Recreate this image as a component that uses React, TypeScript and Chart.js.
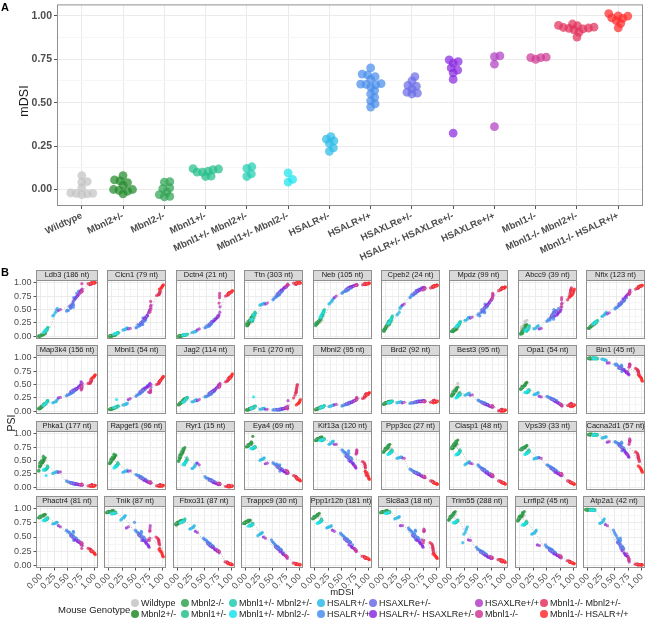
import React, { useEffect, useRef } from "react";
import { Chart, registerables } from "chart.js";
Chart.register(...registerables);

const FONT = "'Liberation Sans', Arial, Helvetica, sans-serif";
Chart.defaults.font.family = FONT;

// ---------------- data ----------------
const genotypes = [
  "Wildtype", "Mbnl2+/-", "Mbnl2-/-", "Mbnl1+/-", "Mbnl1+/- Mbnl2+/-", "Mbnl1+/- Mbnl2-/-",
  "HSALR+/-", "HSALR+/+", "HSAXLRe+/-", "HSALR+/- HSAXLRe+/-", "HSAXLRe+/+", "Mbnl1-/-",
  "Mbnl1-/- Mbnl2+/-", "Mbnl1-/- HSALR+/+",
];
const genotypeColors = [
  "#c4c4c4", "#238b2b", "#31a354", "#26bf8a", "#22cdb2", "#1be3ee", "#2dbbe8",
  "#4a8eec", "#6c6ce8", "#8a2be2", "#b040c4", "#cf3a96", "#e2325c", "#ff2d2d",
];
// mDSI of every mouse, by genotype (panel A)
const mdsiByGenotype: number[][] = [
  [0.08, 0.045, 0.043, 0.01, -0.02, -0.022, -0.023, -0.025, -0.03],
  [0.08, 0.055, 0.05, 0.04, 0.025, 0.0, 0.0, -0.005, -0.01, -0.025],
  [0.045, 0.043, 0.01, 0.005, -0.015, -0.03, -0.04, -0.042],
  [0.12, 0.118, 0.115, 0.105, 0.1, 0.1, 0.077, 0.075],
  [0.131, 0.122, 0.09, 0.075],
  [0.096, 0.058, 0.043],
  [0.305, 0.29, 0.28, 0.265, 0.24, 0.22],
  [0.7, 0.665, 0.66, 0.65, 0.635, 0.61, 0.607, 0.605, 0.603, 0.59, 0.57, 0.55, 0.53, 0.51, 0.493, 0.475],
  [0.65, 0.625, 0.6, 0.595, 0.58, 0.56, 0.555, 0.55],
  [0.747, 0.737, 0.728, 0.7, 0.687, 0.672, 0.634, 0.325],
  [0.769, 0.765, 0.722, 0.362],
  [0.762, 0.76, 0.76, 0.75],
  [0.953, 0.945, 0.943, 0.935, 0.933, 0.93, 0.928, 0.925, 0.919, 0.906, 0.878],
  [1.013, 1.0, 0.998, 0.988, 0.985, 0.972, 0.957, 0.931],
];
const geneLabels = [
  "Ldb3 (186 nt)", "Clcn1 (79 nt)", "Dctn4 (21 nt)", "Ttn (303 nt)", "Neb (105 nt)", "Cpeb2 (24 nt)", "Mpdz (99 nt)", "Abcc9 (39 nt)", "Nfix (123 nt)",
  "Map3k4 (156 nt)", "Mbnl1 (54 nt)", "Jag2 (114 nt)", "Fn1 (270 nt)", "Mbnl2 (95 nt)", "Brd2 (92 nt)", "Best3 (95 nt)", "Opa1 (54 nt)", "Bin1 (45 nt)",
  "Phka1 (177 nt)", "Rapgef1 (96 nt)", "Ryr1 (15 nt)", "Eya4 (69 nt)", "Kif13a (120 nt)", "Ppp3cc (27 nt)", "Clasp1 (48 nt)", "Vps39 (33 nt)", "Cacna2d1 (57 nt)",
  "Phactr4 (81 nt)", "Tnik (87 nt)", "Fbxo31 (87 nt)", "Trappc9 (30 nt)", "Ppp1r12b (181 nt)", "Slc8a3 (18 nt)", "Trim55 (288 nt)", "Lrrfip2 (45 nt)", "Atp2a1 (42 nt)",
];
// PSI (%) of every mouse, same order as mdsiByGenotype, genotypes separated by "|"
const psiByGene: string[] = [
  "4 3 2 2 1 1 2 1 0|6 5 4 4 3 2 2 1 2 1|5 4 3 2 2 1 1 0|15 14 12 13 10 11 8 9|17 16 12 11|12 8 7|52 50 46 44 40 38|84 80 74 72 70 72 58 66 54 60 55 52 56 48 49 47|72 68 65 62 60 56 58 54|86 84 82 78 76 74 70 48|88 84 80 50|98 86 84 82|99 99 98 98 98 97 99 98 97 96 98|100 100 99 100 99 99 100 99",
  "3 2 2 1 1 1 2 1 0|3 3 2 2 2 1 1 1 2 1|3 2 2 1 1 0 1 0|7 6 6 5 6 5 5 4|7 6 5 5|6 5 4|16 15 14 13 12 12|38 33 30 36 28 34 22 28 24 22 26 20 19 22 17 16|32 30 28 27 25 24 23 22|50 47 45 40 38 35 33 14|58 52 44 15|65 56 50 46|86 84 82 82 80 80 79 78 78 77 76|96 95 94 93 92 90 89 88",
  "2 2 1 1 1 1 0 1 0|3 2 2 2 1 1 1 1 0 1|3 2 2 1 1 0 1 0|4 4 3 3 3 3 2 3|4 4 3 3|3 3 2|10 9 9 8 8 7|35 32 30 31 28 27 25 24 26 22 20 19 18 20 17 16|30 28 26 27 24 22 23 21|40 38 36 34 33 31 28 12|55 45 38 14|80 76 72 62|82 81 80 80 79 79 78 78 77 76 75|85 84 83 82 82 81 80 79",
  "30 28 25 24 22 20 26 28 24|40 36 34 30 28 26 25 22 24 20|35 32 30 28 26 22 20 24|45 42 40 38 36 34 30 28|44 42 35 32|40 32 30|62 61 60 60 59 58|90 86 85 84 82 80 82 78 80 77 76 74 73 72 70 68|86 84 83 82 80 78 79 76|94 92 92 90 90 88 86 60|96 95 93 62|97 96 95 95|99 99 98 99 98 98 97 98 97 98 99|99 100 100 99 99 100 99 100",
  "30 28 26 25 24 23 22 25 26|38 34 32 30 28 27 25 24 26 22|32 30 28 26 25 22 24 20|48 46 45 42 40 38 36 34|50 46 42 40|45 38 35|70 68 66 64 62 60|94 92 91 90 90 89 88 88 87 86 85 84 84 83 82 80|92 91 90 90 89 88 87 86|96 95 95 94 93 93 92 72|96 95 94 75|96 96 95 95|98 98 97 98 97 97 96 97 98 97 96|99 99 98 98 99 98 97 99",
  "22 20 18 16 14 12 15 12 10|30 28 26 24 20 18 16 14 15 12|24 22 20 16 14 10 12 10|36 34 32 30 28 27 24 22|38 35 30 28|32 26 24|56 54 52 45 42 40|90 87 86 86 85 84 83 84 82 80 80 78 76 78 74 72|88 86 84 85 82 80 81 78|91 90 90 88 88 86 84 58|90 89 86 60|90 89 88 88|95 94 93 94 93 92 92 91 93 92 90|95 96 94 95 94 93 94 92",
  "14 13 12 12 11 10 12 11 10|18 16 14 13 12 11 10 12 10 9|16 15 14 12 12 10 10 9|26 25 24 22 22 20 20 18|28 26 22 20|24 20 18|36 35 34 32 30 30|62 58 57 55 54 60 46 52 44 48 46 50 44 38 42 40|58 55 54 52 50 48 49 46|70 68 67 64 62 60 58 34|78 76 66 36|80 74 72 70|91 90 90 89 89 88 88 87 87 86 85|92 91 91 90 90 89 89 88",
  "30 28 24 20 18 15 12 10 8|22 20 18 14 12 10 8 6 10 5|20 16 14 10 8 6 5 4|18 16 15 14 12 13 10 10|20 16 14 12|15 12 10|20 18 18 16 15 14|52 48 46 45 44 50 36 42 32 36 40 34 30 32 30 28|48 46 45 42 40 38 36 35|50 48 46 44 42 40 38 14|62 55 48 15|72 68 60 55|90 88 86 85 82 80 78 76 74 72 68|88 86 84 82 80 78 76 74",
  "22 21 20 18 17 16 17 16 15|26 24 23 22 20 19 18 18 17 16|22 21 20 19 18 16 15 15|28 27 27 26 25 25 24 23|30 29 27 26|27 24 23|45 43 41 40 38 37|72 68 67 66 65 63 62 63 61 60 58 57 55 54 53 51|68 66 64 63 62 60 61 58|80 78 78 76 74 72 70 42|86 82 78 44|84 80 80 78|93 92 92 92 91 91 90 90 90 89 88|95 95 94 94 93 93 94 92",
  "12 10 9 8 7 6 8 6 5|15 14 12 11 9 8 7 6 8 5|12 11 10 8 7 6 5 5|20 19 18 16 17 15 14 13|20 18 15 14|16 12 11|22 20 18 18 17 16|46 42 41 40 40 38 37 38 36 35 34 33 32 31 30 29|43 41 40 39 38 36 37 35|55 50 48 45 44 42 40 25|52 46 44 26|48 44 42 40|62 60 58 58 57 56 55 54 53 52 52|68 67 66 65 64 63 62 60",
  "7 6 6 5 5 4 5 4 4|8 7 6 6 5 5 4 5 4 4|7 6 6 5 5 4 4 4|10 10 9 9 8 8 7 7|10 9 8 8|22 8 7|15 14 14 13 12 12|48 44 42 41 40 39 38 40 37 36 34 33 32 31 30 28|44 42 40 40 38 36 37 35|52 50 48 46 45 44 42 22|50 45 36 24|40 38 36 35|58 57 56 56 55 54 54 53 52 51 50|65 64 63 62 61 60 58 56",
  "18 17 16 15 14 14 15 13 12|24 22 21 20 18 17 16 15 16 14|20 18 17 16 15 13 13 12|26 25 24 23 22 22 20 20|26 24 21 20|22 18 17|22 21 20 19 18 18|44 40 38 37 36 35 34 35 33 32 31 30 29 28 28 27|40 38 37 36 35 33 34 32|50 48 46 44 42 40 38 20|52 48 44 22|50 48 46 45|64 62 62 61 60 60 59 58 57 56 55|70 68 66 65 64 62 61 60",
  "5 4 4 4 3 3 4 3 3|8 7 6 5 5 4 4 3 4 3|6 5 5 4 4 3 3 3|10 9 8 8 7 7 6 6|10 9 8 7|27 6 5|6 5 5 5 4 4|5 5 4 4 4 3 3 4 3 3 3 3 4 3 3 3|5 5 4 4 4 3 4 3|8 7 6 6 5 5 4 4|20 10 8 4|8 6 5 5|50 48 45 42 40 38 36 35 34 30 25|22 20 18 17 16 15 14 12",
  "7 6 6 5 5 4 5 5 4|9 8 7 7 6 5 5 4 5 4|8 7 6 5 5 4 4 3|10 10 9 9 8 8 7 7|11 10 8 8|9 7 6|12 11 11 10 10 9|20 18 17 17 16 15 15 16 14 14 13 13 12 12 11 10|18 17 16 15 15 14 14 13|22 21 20 19 18 17 16 12|24 22 20 13|26 24 22 21|33 32 32 31 30 30 29 28 27 25 24|35 34 33 32 32 31 30 28",
  "18 17 16 16 15 15 16 15 14|19 18 18 17 16 16 15 15 16 14|18 17 16 16 15 14 14 13|19 19 18 18 17 17 16 16|19 18 17 17|18 17 16|18 18 17 17 17 16|20 19 19 19 18 18 18 17 17 17 17 16 16 16 16 15|19 19 18 18 18 17 17 17|20 20 19 19 18 18 18 16|19 19 18 17|19 18 18 18|21 20 20 20 19 19 19 18 18 18 17|19 19 18 18 17 17 17 16",
  "52 45 42 40 38 35 36 34 33|45 42 40 38 36 35 34 32 33 30|42 40 38 36 34 32 30 28|35 34 33 32 32 30 30 28|32 30 28 27|30 26 25|34 33 32 32 31 30|10 12 13 13 14 15 15 16 15 16 17 18 18 19 20 21|12 13 14 14 15 16 16 17|8 9 9 10 11 12 13 30|8 9 10 31|9 10 10 11|4 4 3 4 3 3 2 3 2 2 1|3 2 2 2 1 1 1 0",
  "52 50 48 46 45 44 46 45 44|54 52 50 48 47 46 45 44 46 43|50 48 47 45 44 42 42 41|40 39 38 37 36 36 35 35|40 38 36 35|38 36 35|35 34 33 32 32 31|17 19 20 20 21 22 22 23 22 23 24 25 25 26 27 28|19 20 21 21 22 23 23 24|12 13 14 15 16 17 18 28|10 12 14 27|11 12 12 13|15 14 14 14 13 13 13 12 12 12 11|12 12 11 11 10 10 9 9",
  "99 99 99 98 99 98 99 98 99|99 99 98 99 98 98 99 98 99 98|99 98 98 99 98 99 98 99|99 98 98 99 98 98 99 98|98 98 99 98|98 98 99|95 95 96 96 97 97|72 76 77 78 78 74 84 80 86 82 83 80 85 88 86 88|76 78 79 80 80 82 81 83|68 70 70 72 74 75 78 90|86 88 74 90|86 88 84 82|66 68 70 72 72 74 75 76 77 78 80|56 58 60 62 63 64 66 68",
  "50 48 47 46 45 44 46 45 44|55 52 50 48 45 44 42 40 46 38|58 55 50 48 45 40 32 30|40 38 36 35 34 34 33 32|38 36 34 33|22 34 32|30 29 28 28 27 26|5 6 6 6 7 7 8 8 7 8 9 9 10 10 11 12|6 6 7 7 8 8 8 9|4 5 5 5 6 6 7 28|4 5 5 29|5 5 6 6|5 5 4 4 4 4 3 3 3 3 3|4 4 3 3 3 2 2 2",
  "58 55 54 52 50 50 52 50 48|60 58 56 54 52 50 50 48 52 46|62 60 56 54 50 46 44 45|46 44 43 42 41 40 40 38|44 42 40 38|40 38 36|32 31 30 30 29 28|12 14 15 15 16 17 17 18 17 19 20 21 22 22 23 24|14 15 16 16 17 18 18 19|8 9 10 10 11 12 13 30|8 9 10 31|9 10 10 11|5 5 4 4 4 4 4 3 3 3 3|4 4 3 3 3 3 2 2",
  "70 66 64 62 60 58 60 58 56|74 70 68 65 62 60 58 55 60 52|72 70 66 62 58 55 50 48|55 52 50 50 48 46 45 42|52 50 46 45|46 44 42|45 42 40 38 36 35|8 10 11 11 12 13 13 14 13 14 15 16 17 17 18 20|10 11 12 12 13 14 14 15|5 6 6 7 8 8 9 45|6 7 8 42|6 7 7 8|4 4 4 3 3 3 3 3 2 2 2|3 3 2 2 2 2 1 1",
  "82 80 80 78 78 77 79 78 77|95 84 82 80 80 78 78 77 79 76|84 82 80 79 78 76 76 75|76 75 75 74 74 73 72 72|75 74 72 72|75 73 72|55 54 53 52 52 50|30 32 33 34 35 30 42 37 40 38 40 44 42 43 44 46|33 34 35 36 37 38 38 40|26 27 28 29 30 31 33 44|26 28 32 45|28 29 30 31|15 16 17 18 18 19 19 20 20 21 22|12 13 14 14 15 16 17 18",
  "92 91 90 90 89 89 90 89 88|94 93 92 91 90 90 89 88 90 88|93 92 91 90 89 88 88 87|90 90 89 89 88 88 87 87|90 89 88 88|89 88 87|86 85 84 82 81 80|45 52 54 55 56 50 64 58 68 60 62 64 65 66 68 70|50 52 54 55 56 58 58 60|36 38 40 42 44 46 48 80|68 64 40 80|70 66 64 62|22 25 28 30 36 38 40 42 44 46 48|15 16 18 20 22 25 28 30",
  "74 72 72 70 70 68 70 69 68|80 78 76 74 72 72 70 70 72 68|78 76 74 72 70 68 66 65|70 68 67 66 66 65 64 64|68 66 64 63|64 62 61|57 56 56 55 55 54|22 24 25 25 26 27 27 28 27 28 29 30 31 32 33 34|24 25 26 26 27 28 28 29|19 20 20 21 22 23 24 55|18 19 21 54|19 20 20 21|8 9 9 9 10 10 10 11 11 12 12|6 6 7 7 7 8 8 9",
  "80 78 76 75 74 74 76 75 74|88 85 82 80 78 76 75 74 76 72|86 84 82 80 78 76 74 72|70 68 66 65 64 63 62 62|68 66 62 62|64 62 60|48 47 46 45 44 42|26 28 29 30 30 31 32 33 32 34 35 36 37 38 40 42|28 29 30 31 32 33 33 35|20 21 22 23 24 25 27 45|20 22 25 44|22 23 23 24|8 9 9 10 10 10 11 11 11 12 12|6 7 7 8 8 9 9 10",
  "76 74 73 72 72 71 72 71 70|78 76 75 74 73 72 72 71 73 70|76 75 74 73 72 71 70 70|70 68 67 66 66 65 64 64|68 66 64 63|64 62 61|56 55 55 54 54 53|28 30 31 32 32 33 34 35 34 36 37 38 39 40 41 42|30 31 32 33 34 35 35 36|22 23 24 25 26 27 28 55|22 24 26 54|24 25 25 26|8 9 9 9 10 10 10 11 11 12 12|6 6 7 7 8 8 9 9",
  "98 98 98 99 98 98 99 98 98|99 98 98 98 99 98 98 99 98 98|98 98 99 98 98 99 98 98|98 98 97 98 97 98 98 97|98 97 97 98|97 98 97|94 94 93 93 92 92|64 68 70 72 74 68 82 76 84 80 80 82 82 83 84 85|70 72 74 75 76 78 78 80|56 58 60 62 64 66 70 84|88 86 62 85|90 86 84 80|48 50 52 54 55 56 58 60 62 64 66|28 30 32 33 34 36 38 40",
  "88 87 86 86 85 85 86 85 84|90 89 88 88 87 86 86 85 87 84|89 88 87 86 86 85 84 84|84 83 82 82 81 81 80 80|84 82 80 80|82 80 79|76 76 75 74 74 73|44 46 47 48 49 44 58 52 60 53 54 56 58 59 60 62|46 47 48 50 51 52 52 54|38 39 40 41 42 43 45 70|35 38 42 68|38 40 30 36|24 24 25 25 26 26 27 28 28 29 30|19 20 21 22 23 24 25 26",
  "96 96 95 95 95 94 95 94 94|97 96 96 95 95 95 94 94 95 94|96 96 95 95 94 94 93 93|94 94 93 93 93 92 92 92|93 92 92 91|92 91 91|88 86 85 84 82 80|42 46 48 50 50 44 58 52 60 55 56 57 58 60 62 76|46 48 50 50 52 54 53 55|32 34 36 38 40 42 44 66|70 66 45 68|62 60 48 44|25 30 36 38 40 42 44 45 46 48 50|15 16 18 20 22 24 26 28",
  "76 75 74 73 72 71 72 70 70|80 78 78 77 76 75 74 74 76 72|79 78 77 76 75 74 73 72|80 79 79 78 78 77 77 76|82 80 78 77|78 76 75|70 68 67 66 65 64|28 32 33 34 35 36 37 38 37 39 40 42 44 45 46 48|32 33 34 35 36 38 38 40|24 25 26 27 28 30 32 60|22 24 28 58|24 25 25 26|3 3 4 4 4 4 5 5 5 6 6|1 1 2 2 2 2 3 3",
  "78 77 76 76 75 75 76 75 74|80 79 78 78 77 76 76 75 77 74|80 79 78 77 76 75 74 74|74 73 72 72 71 70 70 70|74 72 70 70|72 70 69|58 57 56 55 54 52|22 26 27 28 29 30 31 32 31 33 34 36 38 40 42 45|26 27 28 29 30 32 32 34|16 17 18 19 20 22 24 50|12 15 18 48|14 15 16 17|2 2 2 2 2 3 3 3 3 4 4|1 1 1 1 1 2 2 2",
  "88 87 86 85 85 84 86 85 84|92 90 89 88 87 86 85 84 86 83|90 88 87 86 85 84 83 82|82 80 79 78 78 77 76 76|80 78 76 75|77 75 74|70 69 68 68 67 66|36 40 41 42 43 44 45 46 45 47 48 50 52 53 55 57|40 41 42 43 44 46 46 48|28 29 30 31 32 34 36 62|24 26 30 60|26 27 27 28|12 12 13 13 14 14 14 15 15 16 16|10 11 11 12 12 13 13 14",
  "96 96 95 95 95 94 95 94 94|97 96 96 95 95 95 94 94 95 94|96 96 95 95 94 94 93 93|95 95 94 94 94 93 93 93|94 93 93 92|93 92 92|86 85 84 84 83 82|40 46 48 49 50 45 60 52 62 55 56 58 60 62 63 66|45 47 48 50 51 52 52 54|32 34 36 38 40 42 44 70|62 60 45 70|64 60 44 40|20 22 24 26 28 30 32 34 36 38 40|12 13 14 15 16 17 18 20",
  "90 88 86 85 84 84 86 85 84|95 93 92 90 88 86 85 84 86 82|92 90 88 86 84 82 80 80|80 79 78 78 77 76 76 75|80 78 76 75|78 76 75|68 65 62 58 55 40|16 18 19 20 20 21 22 23 22 24 25 26 27 28 29 32|18 19 20 21 22 23 23 24|12 13 14 14 15 16 18 45|12 14 16 44|13 14 14 15|6 7 7 8 8 8 9 9 9 10 10|5 6 7 7 8 8 9 10",
  "88 86 85 84 84 83 85 84 83|95 92 90 88 86 85 84 82 86 80|93 90 88 86 84 82 80 78|78 76 75 74 74 73 72 72|76 74 72 71|74 72 71|62 60 58 57 56 55|18 21 22 23 24 25 26 27 26 28 29 30 31 32 33 36|21 22 23 24 25 26 26 28|14 15 16 17 18 19 20 36|13 15 18 35|15 16 16 17|5 5 5 6 6 6 7 7 7 8 8|3 3 3 4 4 4 5 5",
  "99 99 98 98 99 98 98 99 98|99 98 98 99 98 98 99 98 98 99|99 98 98 99 98 98 99 98|98 98 97 97 98 97 97 98|98 97 97 98|97 97 98|82 80 78 76 75 74|18 28 30 32 34 30 44 38 48 42 45 48 52 55 58 62|30 32 34 36 38 40 40 42|15 16 17 18 20 22 26 72|6 10 20 70|8 10 12 14|1 1 1 1 1 1 1 2 2 2 2|1 0 1 1 1 1 1 1",
];
const panelATicks = [0, 0.25, 0.5, 0.75, 1];
const facetTicks = [0, 0.25, 0.5, 0.75, 1];

// ---------------- helpers ----------------
function rgba(hex: string, a: number) {
  const n = parseInt(hex.slice(1), 16);
  return `rgba(${(n >> 16) & 255},${(n >> 8) & 255},${n & 255},${a})`;
}
const withMinor = (ticks: number[]) => {
  const out: number[] = [];
  ticks.forEach((t, i) => {
    out.push(t);
    if (i < ticks.length - 1) out.push((t + ticks[i + 1]) / 2);
  });
  return out;
};
const isMajor = (ticks: number[], v: number) => ticks.some((t) => Math.abs(t - v) < 1e-9);
const parsePsi = (s: string) => s.split("|").map((g) => g.trim().split(/\s+/).map((v) => Number(v) / 100));

function swarmOffsets(vals: number[], pxPerY: number, pxPerX: number, minDist: number) {
  const order = vals.map((_, i) => i).sort((a, b) => vals[a] - vals[b]);
  const placed: [number, number][] = [];
  const out = new Array(vals.length).fill(0);
  for (const i of order) {
    const y = vals[i] * pxPerY;
    for (let k = 0; k < 400; k++) {
      const dx = k === 0 ? 0 : (k % 2 ? 1 : -1) * Math.ceil(k / 2) * 0.5;
      if (placed.every(([px, py]) => Math.hypot(px - dx, py - y) >= minDist)) {
        placed.push([dx, y]);
        out[i] = dx / pxPerX;
        break;
      }
    }
  }
  return out;
}

function kernelSmooth(pts: { x: number; y: number }[], bw: number) {
  const xs = pts.map((p) => p.x);
  const lo = Math.min(...xs), hi = Math.max(...xs);
  const n = 40;
  const out: { x: number; y: number }[] = [];
  for (let i = 0; i <= n; i++) {
    const x0 = lo + ((hi - lo) * i) / n;
    let w = 0, s = 0;
    for (const p of pts) {
      const d = (p.x - x0) / bw;
      const k = Math.exp(-0.5 * d * d);
      w += k;
      s += k * p.y;
    }
    out.push({ x: x0, y: s / w });
  }
  return out;
}

const BORDER = "#8f8f8f";
function framePlugin(strip?: string) {
  return {
    id: "frame",
    afterDraw(chart: any) {
      const { ctx, chartArea } = chart;
      const { left, top, right, bottom } = chartArea;
      ctx.save();
      ctx.lineWidth = 1;
      ctx.strokeStyle = BORDER;
      if (strip) {
        ctx.fillStyle = "#d9d9d9";
        ctx.fillRect(left, top - 10, right - left, 10);
        ctx.strokeRect(left + 0.5, top - 10 + 0.5, right - left - 1, 10);
        ctx.fillStyle = "#1a1a1a";
        ctx.font = `7.5px ${FONT}`;
        ctx.textAlign = "center";
        ctx.textBaseline = "middle";
        ctx.fillText(strip, (left + right) / 2, top - 4.6);
      }
      ctx.strokeRect(left + 0.5, top + 0.5, right - left - 1, bottom - top - 1);
      ctx.restore();
    },
  };
}

// ---------------- layout ----------------
const A_W = 650, A_H = 262;
const A_LEFT = 57, A_RIGHT_PAD = 7, A_TOP = 1, A_BOTTOM = 206;
const A_YMIN = -0.095, A_YMAX = 1.066, A_XMIN = -0.6, A_XMAX = 13.6;
const F_LEFT0 = 36, F_STEP_X = 68.4, F_W = 65;
const F_TOP0 = 270, F_STEP_Y = 75.33, F_STRIP = 10, F_H = 62;
const F_XMIN = -0.092, F_XMAX = 1.062, F_YMIN = -0.048, F_YMAX = 1.048;

type Box = { left: number; top: number; width: number; height: number; L: number; R: number; B: number; r: number; c: number };
const facetBoxes: Box[] = geneLabels.map((_, i) => {
  const r = Math.floor(i / 9), c = i % 9;
  const plotLeft = Math.round(F_LEFT0 + c * F_STEP_X);
  const stripTop = Math.round(F_TOP0 + r * F_STEP_Y);
  const L = c === 0 ? plotLeft : r === 3 ? 22 : 1;
  const R = 1;
  const B = r === 3 ? 30 : 1;
  return { left: plotLeft - L, top: stripTop, width: L + F_W + R, height: F_STRIP + F_H + B, L, R, B, r, c };
});

const legendColX = [135, 185, 233, 321, 373, 479, 544];
const legendRowY = [603, 614];

export default function App() {
  const aRef = useRef<HTMLCanvasElement>(null);
  const fRefs = useRef<(HTMLCanvasElement | null)[]>([]);

  useEffect(() => {
    document.body.style.margin = "0";
    const charts: Chart[] = [];
    const pxPerY = (A_BOTTOM - A_TOP) / (A_YMAX - A_YMIN);
    const pxPerX = (A_W - A_RIGHT_PAD - A_LEFT) / (A_XMAX - A_XMIN);
    const aMinor = withMinor(panelATicks);

    // Panel A
    if (aRef.current) {
      const datasets: any[] = genotypes.map((g, i) => {
        const offs = swarmOffsets(mdsiByGenotype[i], pxPerY, pxPerX, 5.2);
        return {
          label: g,
          data: mdsiByGenotype[i].map((v, j) => ({ x: i + offs[j], y: v })),
          backgroundColor: rgba(genotypeColors[i], 0.72),
          borderWidth: 0,
          pointRadius: 4.4,
          order: -i,
        };
      });
      charts.push(
        new Chart(aRef.current, {
          type: "scatter",
          data: { datasets },
          options: {
            animation: false,
            responsive: false,
            events: [],
            layout: { padding: { left: 0, top: A_TOP, right: A_RIGHT_PAD, bottom: 0 } },
            plugins: { legend: { display: false }, tooltip: { enabled: false } },
            scales: {
              x: {
                type: "linear",
                min: A_XMIN,
                max: A_XMAX,
                afterBuildTicks: (s: any) => {
                  s.ticks = genotypes.map((_, i) => ({ value: i }));
                },
                afterFit: (s: any) => {
                  s.height = A_H - A_BOTTOM;
                  s.paddingLeft = 0;
                  s.paddingRight = 0;
                },
                ticks: {
                  autoSkip: false,
                  minRotation: 25,
                  maxRotation: 25,
                  padding: 1,
                  color: "#4d4d4d",
                  font: { size: 9.5, weight: "bold" },
                  callback: (v: any) => genotypes[Math.round(Number(v))] ?? "",
                },
                grid: { color: "#ebebeb", tickColor: "#555", tickLength: 3, lineWidth: 1 },
                border: { display: false },
              },
              y: {
                min: A_YMIN,
                max: A_YMAX,
                afterBuildTicks: (s: any) => {
                  s.ticks = aMinor.map((v) => ({ value: v }));
                },
                afterFit: (s: any) => {
                  s.width = A_LEFT;
                  s.paddingTop = 0;
                  s.paddingBottom = 0;
                },
                ticks: {
                  padding: 2,
                  color: "#4d4d4d",
                  font: { size: 10.5, weight: "bold" },
                  callback: (v: any) => (isMajor(panelATicks, Number(v)) ? Number(v).toFixed(2) : ""),
                },
                grid: {
                  color: (c: any) => (c.tick && isMajor(panelATicks, c.tick.value) ? "#ebebeb" : "#f6f6f6"),
                  tickColor: (c: any) => (c.tick && isMajor(panelATicks, c.tick.value) ? "#555" : "rgba(0,0,0,0)"),
                  tickLength: 3,
                },
                border: { display: false },
              },
            },
          },
          plugins: [framePlugin()],
        } as any)
      );
    }

    // Panel B
    const fMinor = withMinor(facetTicks);
    geneLabels.forEach((gene, gi) => {
      const cv = fRefs.current[gi];
      if (!cv) return;
      const box = facetBoxes[gi];
      const psi = parsePsi(psiByGene[gi]);
      const all: { x: number; y: number }[] = [];
      const datasets: any[] = genotypes.map((g, i) => {
        const xs = mdsiByGenotype[i];
        const ys = psi[i] || [];
        const n = Math.min(xs.length, ys.length);
        const data = [];
        for (let j = 0; j < n; j++) {
          data.push({ x: xs[j], y: ys[j] });
          all.push({ x: xs[j], y: ys[j] });
        }
        return {
          label: g,
          data,
          backgroundColor: rgba(genotypeColors[i], 0.8),
          borderWidth: 0,
          pointRadius: 1.6,
          order: -i,
        };
      });
      datasets.push({
        type: "line",
        label: "fit",
        data: kernelSmooth(all, 0.07),
        borderColor: "#b5b5b5",
        borderWidth: 0.8,
        borderDash: [1.2, 1.6],
        pointRadius: 0,
        fill: false,
        order: -100,
      });
      const showY = box.c === 0;
      const showX = box.r === 3;
      charts.push(
        new Chart(cv, {
          type: "scatter",
          data: { datasets },
          options: {
            animation: false,
            responsive: false,
            events: [],
            layout: { padding: { left: showY ? 0 : box.L, top: F_STRIP, right: box.R, bottom: showX ? 0 : box.B } },
            plugins: { legend: { display: false }, tooltip: { enabled: false } },
            scales: {
              x: {
                type: "linear",
                min: F_XMIN,
                max: F_XMAX,
                afterBuildTicks: (s: any) => {
                  s.ticks = fMinor.map((v) => ({ value: v }));
                },
                afterFit: (s: any) => {
                  s.height = showX ? box.B : 0;
                  s.paddingLeft = 0;
                  s.paddingRight = 0;
                },
                ticks: {
                  display: showX,
                  autoSkip: false,
                  minRotation: 45,
                  maxRotation: 45,
                  padding: 1,
                  color: "#4d4d4d",
                  font: { size: 9 },
                  callback: (v: any) => (isMajor(facetTicks, Number(v)) ? Number(v).toFixed(2) : ""),
                },
                grid: {
                  drawTicks: showX,
                  tickLength: 2.5,
                  color: (c: any) => (c.tick && isMajor(facetTicks, c.tick.value) ? "#ebebeb" : "#f5f5f5"),
                  tickColor: (c: any) => (c.tick && isMajor(facetTicks, c.tick.value) ? "#555" : "rgba(0,0,0,0)"),
                },
                border: { display: false },
              },
              y: {
                min: F_YMIN,
                max: F_YMAX,
                afterBuildTicks: (s: any) => {
                  s.ticks = fMinor.map((v) => ({ value: v }));
                },
                afterFit: (s: any) => {
                  s.width = showY ? box.L : 0;
                  s.paddingTop = 0;
                  s.paddingBottom = 0;
                },
                ticks: {
                  display: showY,
                  padding: 2,
                  color: "#4d4d4d",
                  font: { size: 9 },
                  callback: (v: any) => (isMajor(facetTicks, Number(v)) ? Number(v).toFixed(2) : ""),
                },
                grid: {
                  drawTicks: showY,
                  tickLength: 2.5,
                  color: (c: any) => (c.tick && isMajor(facetTicks, c.tick.value) ? "#ebebeb" : "#f5f5f5"),
                  tickColor: (c: any) => (c.tick && isMajor(facetTicks, c.tick.value) ? "#555" : "rgba(0,0,0,0)"),
                },
                border: { display: false },
              },
            },
          },
          plugins: [framePlugin(gene)],
        } as any)
      );
    });

    return () => charts.forEach((c) => c.destroy());
  }, []);

  const text = (s: string, style: React.CSSProperties) => (
    <div style={{ position: "absolute", whiteSpace: "nowrap", fontFamily: FONT, ...style }}>{s}</div>
  );

  return (
    <div style={{ position: "relative", width: 650, height: 622, overflow: "hidden", background: "#fff", fontFamily: FONT }}>
      <canvas ref={aRef} width={A_W} height={A_H} style={{ position: "absolute", left: 0, top: 0, width: A_W, height: A_H }} />
      {facetBoxes.map((b, i) => (
        <canvas
          key={i}
          ref={(el) => {
            fRefs.current[i] = el;
          }}
          width={b.width}
          height={b.height}
          style={{ position: "absolute", left: b.left, top: b.top, width: b.width, height: b.height }}
        />
      ))}
      {text("A", { left: 1, top: 1, fontSize: 11, fontWeight: "bold", lineHeight: "12px" })}
      {text("B", { left: 1, top: 266, fontSize: 11, fontWeight: "bold", lineHeight: "12px" })}
      {text("mDSI", { left: 24, top: 101, fontSize: 12.5, color: "#1a1a1a", transform: "translate(-50%,-50%) rotate(-90deg)" })}
      {text("PSI", { left: 11, top: 423, fontSize: 10.5, color: "#1a1a1a", transform: "translate(-50%,-50%) rotate(-90deg)" })}
      {text("mDSI", { left: 342, top: 591, fontSize: 9.5, color: "#1a1a1a", transform: "translate(-50%,-50%)" })}
      {text("Mouse Genotype", { left: 58, top: 608.5, fontSize: 9.5, color: "#1a1a1a", transform: "translateY(-50%)" })}
      {genotypes.map((g, i) => {
        const col = Math.floor(i / 2), row = i % 2;
        const x = legendColX[col], y = legendRowY[row];
        return (
          <React.Fragment key={g}>
            <div
              style={{
                position: "absolute",
                left: x - 4,
                top: y - 4,
                width: 8,
                height: 8,
                borderRadius: "50%",
                background: rgba(genotypeColors[i], 0.85),
              }}
            />
            {text(g, { left: x + 6, top: y, fontSize: 9, color: "#1a1a1a", transform: "translateY(-50%)" })}
          </React.Fragment>
        );
      })}
    </div>
  );
}
